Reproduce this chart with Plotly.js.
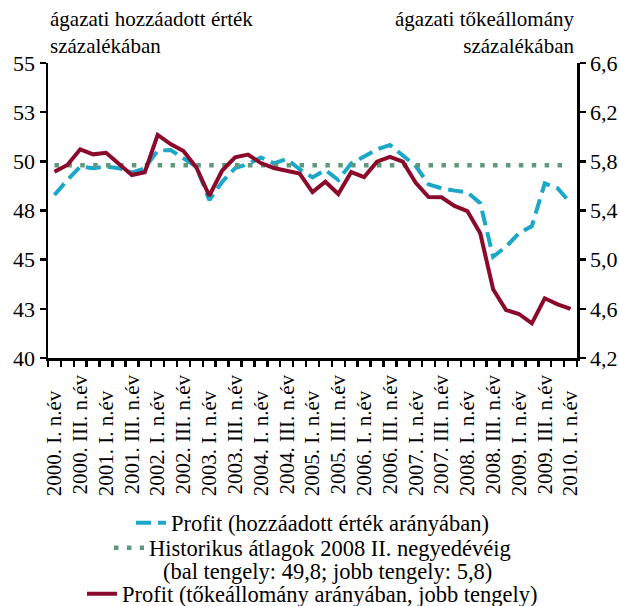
<!DOCTYPE html>
<html><head><meta charset="utf-8">
<script src="https://cdn.plot.ly/plotly-3.0.1.min.js"></script>
<style>body{margin:0;background:#fff}</style>
</head><body><div id="chart" style="width:619px;height:606px"></div>
<script>
// Quarterly categories 2000 Q1 - 2010 Q1
const quarters = [
 "2000. I. n.év","2000. II. n.év","2000. III. n.év","2000. IV. n.év",
 "2001. I. n.év","2001. II. n.év","2001. III. n.év","2001. IV. n.év",
 "2002. I. n.év","2002. II. n.év","2002. III. n.év","2002. IV. n.év",
 "2003. I. n.év","2003. II. n.év","2003. III. n.év","2003. IV. n.év",
 "2004. I. n.év","2004. II. n.év","2004. III. n.év","2004. IV. n.év",
 "2005. I. n.év","2005. II. n.év","2005. III. n.év","2005. IV. n.év",
 "2006. I. n.év","2006. II. n.év","2006. III. n.év","2006. IV. n.év",
 "2007. I. n.év","2007. II. n.év","2007. III. n.év","2007. IV. n.év",
 "2008. I. n.év","2008. II. n.év","2008. III. n.év","2008. IV. n.év",
 "2009. I. n.év","2009. II. n.év","2009. III. n.év","2009. IV. n.év",
 "2010. I. n.év"
];
// Tick labels shown (every other quarter)
const tickLabels = [
 "2000. I. n.év","2000. III. n.év","2001. I. n.év","2001. III. n.év",
 "2002. I. n.év","2002. III. n.év","2003. I. n.év","2003. III. n.év",
 "2004. I. n.év","2004. III. n.év","2005. I. n.év","2005. III. n.év",
 "2006. I. n.év","2006. III. n.év","2007. I. n.év","2007. III. n.év",
 "2008. I. n.év","2008. III. n.év","2009. I. n.év","2009. III. n.év",
 "2010. I. n.év"
];
// Profit, share of sectoral value added (left axis, %)
const profitValueAdded = [
 48.29, 49.05, 49.73, 49.65, 49.73, 49.65, 49.42, 49.65, 50.54, 50.58,
 50.15, 49.73, 48.03, 48.96, 49.65, 49.86, 50.20, 49.90, 50.12, 49.60,
 49.18, 49.56, 49.05, 49.90, 50.24, 50.61, 50.83, 50.27, 49.76, 48.83,
 48.63, 48.51, 48.43, 47.87, 45.15, 45.66, 46.34, 46.71, 48.88, 48.63,
 47.87
];
// Profit, share of sectoral capital stock (right axis, %)
const profitCapital = [
 5.716, 5.770, 5.898, 5.857, 5.870, 5.784, 5.689, 5.711, 6.015, 5.940,
 5.884, 5.750, 5.520, 5.725, 5.833, 5.855, 5.786, 5.746, 5.727, 5.700,
 5.550, 5.634, 5.534, 5.713, 5.672, 5.797, 5.836, 5.797, 5.625, 5.510,
 5.507, 5.437, 5.395, 5.215, 4.759, 4.590, 4.558, 4.482, 4.686, 4.637,
 4.599
];
// Historical average up to 2008 Q2
const avgX = ["2000. I. n.év", "2010. I. n.év"];
const avgLeft = [49.8, 49.8];

const leftTickVals = [40, 42.5, 45, 47.5, 50, 52.5, 55];
const leftTickText = ["40", "43", "45", "48", "50", "53", "55"];
const rightTickVals = [4.2, 4.6, 5.0, 5.4, 5.8, 6.2, 6.6];
const rightTickText = ["4,2", "4,6", "5,0", "5,4", "5,8", "6,2", "6,6"];

const FONT = "Liberation Serif";
const shown = new Set(tickLabels);
const pad = "\u00a0\u00a0\u00a0";
const xTickText = quarters.map(q => shown.has(q) ? (q.includes(" I. ") ? q + pad : q) : "");

const traces = [
 {x: quarters, y: profitValueAdded, type: "scatter", mode: "lines",
  name: "Profit (hozzáadott érték arányában)",
  line: {color: "#1aa7c8", width: 4, dash: "15px,7px"}, legend: "legend", yaxis: "y"},
 {x: avgX, y: avgLeft, type: "scatter", mode: "lines",
  name: "Historikus átlagok 2008 II. negyedévéig",
  line: {color: "#5f987c", width: 4.5, dash: "4.5px,8.4px"}, legend: "legend2", yaxis: "y"},
 {x: quarters, y: profitCapital, type: "scatter", mode: "lines",
  name: "Profit (tőkeállomány arányában, jobb tengely)",
  line: {color: "#8b0a2c", width: 4}, legend: "legend3", yaxis: "y2"}
];

const legBase = {x: 0.5, xref: "paper", xanchor: "center", yref: "container", yanchor: "middle",
  bgcolor: "rgba(0,0,0,0)", valign: "middle",
  font: {family: FONT, size: 22.5, color: "#000"}, borderwidth: 0, tracegroupgap: 0};

const layout = {
 width: 619, height: 606,
 margin: {l: 48, r: 42, t: 63, b: 248, autoexpand: false},
 paper_bgcolor: "#fff", plot_bgcolor: "#fff",
 font: {family: FONT, size: 21, color: "#000"},
 showlegend: true,
 legend: Object.assign({}, legBase, {y: (606 - 523) / 606}),
 legend2: Object.assign({}, legBase, {y: (606 - 548) / 606}),
 legend3: Object.assign({}, legBase, {y: (606 - 594) / 606}),
 xaxis: {type: "category", categoryorder: "array", categoryarray: quarters,
  tickmode: "array", tickvals: quarters, ticktext: xTickText, automargin: false,
  tickson: "boundaries", ticks: "outside", ticklen: 6, tickwidth: 2.5, tickcolor: "#000",
  ticklabelstandoff: 6,
  tickangle: -90, tickfont: {family: FONT, size: 21, color: "#000"},
  showline: true, linewidth: 2.5, linecolor: "#000", showgrid: false, zeroline: false,
  range: [-0.5, 40.5]},
 yaxis: {range: [40, 55], tickmode: "array", tickvals: leftTickVals, ticktext: leftTickText,
  ticks: "outside", ticklen: 6, tickwidth: 2.5, tickcolor: "#000", automargin: false,
  showline: true, linewidth: 2.5, linecolor: "#000", showgrid: false, zeroline: false,
  tickfont: {family: FONT, size: 22, color: "#000"}},
 yaxis2: {range: [4.2, 6.6], overlaying: "y", side: "right", tickmode: "array",
  tickvals: rightTickVals, ticktext: rightTickText, automargin: false,
  ticks: "outside", ticklen: 6, tickwidth: 2.5, tickcolor: "#000",
  showline: true, linewidth: 2.5, linecolor: "#000", showgrid: false, zeroline: false,
  tickfont: {family: FONT, size: 22, color: "#000"}},
 annotations: [
  {xref: "paper", yref: "paper", x: 0.0, y: 1 + (63 - 5) / 295, xanchor: "left", yanchor: "top",
   align: "left", text: "ágazati hozzáadott érték<br>százalékában", showarrow: false,
   font: {family: FONT, size: 21, color: "#000"}},
  {xref: "paper", yref: "paper", x: 1.0, y: 1 + (63 - 5) / 295, xanchor: "right", yanchor: "top",
   align: "right", text: "ágazati tőkeállomány<br>százalékában", showarrow: false,
   font: {family: FONT, size: 21, color: "#000"}},
  {xref: "paper", yref: "paper", x: (327 - 48) / 529, y: (358 - 571) / 295, xanchor: "center", yanchor: "middle",
   text: "(bal tengely: 49,8; jobb tengely: 5,8)", showarrow: false,
   font: {family: FONT, size: 22.5, color: "#000"}}
 ]
};

Plotly.newPlot("chart", traces, layout, {displayModeBar: false, staticPlot: true});
</script>
</body></html>
